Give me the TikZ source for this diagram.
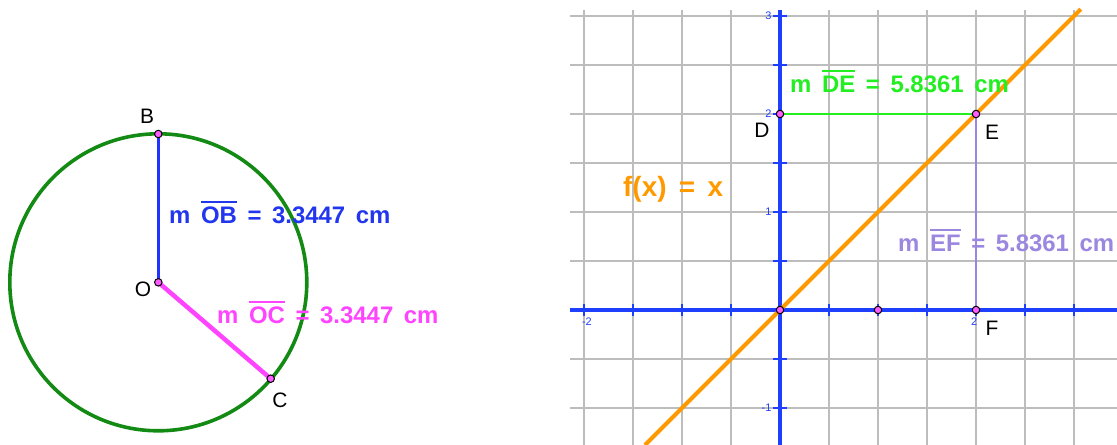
\documentclass[tikz,border=0pt]{standalone}
\usepackage{fontspec}
\setmainfont{Liberation Sans}
\newfontfamily\mfont[WordSpace=1.6]{Liberation Sans}
\newcommand\ovl[1]{\leavevmode\vbox{\hrule height 2.2bp\kern 4.5bp\hbox{#1}}}
\definecolor{circgreen}{HTML}{138A13}
\definecolor{segblue}{HTML}{2233FF}
\definecolor{txtblue}{HTML}{2236EE}
\definecolor{magen}{HTML}{FF44FF}
\definecolor{axblue}{HTML}{1F3FFF}
\definecolor{brgreen}{HTML}{22EE22}
\definecolor{lavender}{HTML}{9B87E0}
\definecolor{orangef}{HTML}{FF9900}
\definecolor{gridgray}{HTML}{BDBDBD}
\definecolor{ptfill}{HTML}{FF5CFF}
\tikzset{
  pt/.style={circle, fill=ptfill, draw=black, line width=1bp, inner sep=0pt, minimum size=7.5bp},
  ptlabel/.style={font=\fontsize{21}{24}\selectfont, text=black, inner sep=0pt},
  meas/.style={font=\mfont\bfseries\fontsize{24}{27}\selectfont, inner sep=0pt, anchor=base west},
  ticklab/.style={font=\fontsize{11}{12}\selectfont, text=axblue, inner sep=0pt},
  gridline/.style={draw=gridgray, line width=1.5bp},
  axis/.style={draw=axblue, line width=3.5bp},
  tickmark/.style={draw=axblue, line width=1.8bp},
}
\begin{document}
\begin{tikzpicture}[x=1bp, y=-1bp]
\useasboundingbox (0,0) rectangle (1117,445);
% ---------- left: circle ----------
\coordinate (O) at (158.3,282.3);
\coordinate (B) at (158.3,134);
\coordinate (C) at (270.7,378.7);
\draw[circgreen, line width=3.6bp] (O) circle[radius=148.5bp];
\draw[segblue, line width=3.5bp] (O) -- (B);
\draw[magen, line width=4.5bp] (O) -- (C);
\node[pt] (ptO) at (O) {};
\node[pt] (ptB) at (B) {};
\node[pt] (ptC) at (C) {};
\node[ptlabel] (lB) at (147,116) {B};
\node[ptlabel] (lO) at (143,289) {O};
\node[ptlabel] (lC) at (280,400) {C};
\node[meas, text=txtblue] (mOB) at (169,224) {m \ovl{OB} = 3.3447 cm};
\node[meas, text=magen] (mOC) at (217,324) {m \ovl{OC} = 3.3447 cm};
% ---------- right: graph ----------
\begin{scope}[shift={(780,310)}, x=98bp, y=98bp]
  \draw[gridline] (-2.143,-1.378) grid[step=0.5] (3.44,3.06);
  \draw[axis] (-2.143,0) -- (3.44,0);
  \draw[axis] (0,-1.378) -- (0,3.06);
  \foreach \t in {-2,-1.5,...,3} { \draw[tickmark] (\t,-0.065) -- (\t,0.065); }
  \foreach \t in {-1,-0.5,...,3} { \draw[tickmark] (-0.075,\t) -- (0.075,\t); }
  \node[ticklab, anchor=east] (t3) at (-0.085,3) {3};
  \node[ticklab, anchor=east] (t2) at (-0.085,2) {2};
  \node[ticklab, anchor=east] (t1) at (-0.085,1) {1};
  \node[ticklab, anchor=east] (tm1) at (-0.085,-1) {-1};
  \node[ticklab, anchor=north] (tmx2) at (-1.97,-0.08) {-2};
  \node[ticklab, anchor=north] (tx2) at (1.98,-0.08) {2};
  \coordinate (P0) at (0,0);
  \coordinate (P1) at (1,0);
  \coordinate (D) at (0,2);
  \coordinate (E) at (2,2);
  \coordinate (F) at (2,0);
  \coordinate (fa) at (-1.378,-1.378);
  \coordinate (fb) at (3.07,3.07);
  \draw[orangef, line width=4bp] (fa) -- (fb);
  \draw[brgreen, line width=2.5bp] (D) -- (E);
  \draw[lavender, line width=2.5bp] (E) -- (F);
  \node[pt] (ptP0) at (P0) {};
  \node[pt] (ptP1) at (P1) {};
  \node[pt] (ptD) at (D) {};
  \node[pt] (ptE) at (E) {};
  \node[pt] (ptF) at (F) {};
\end{scope}
\node[ptlabel] (lD) at (762,130) {D};
\node[ptlabel] (lE) at (992,132) {E};
\node[ptlabel] (lF) at (992,328) {F};
\node[meas, text=brgreen] (mDE) at (790,93) {m \ovl{DE} = 5.8361 cm};
\node[meas, text=lavender] (mEF) at (898,252) {m \ovl{EF} = 5.8361 cm};
\node[font=\mfont\bfseries\fontsize{28}{32}\selectfont, text=orangef, inner sep=0pt, anchor=base west] (fx) at (623,197) {f(x) = x};
\end{tikzpicture}
\end{document}
